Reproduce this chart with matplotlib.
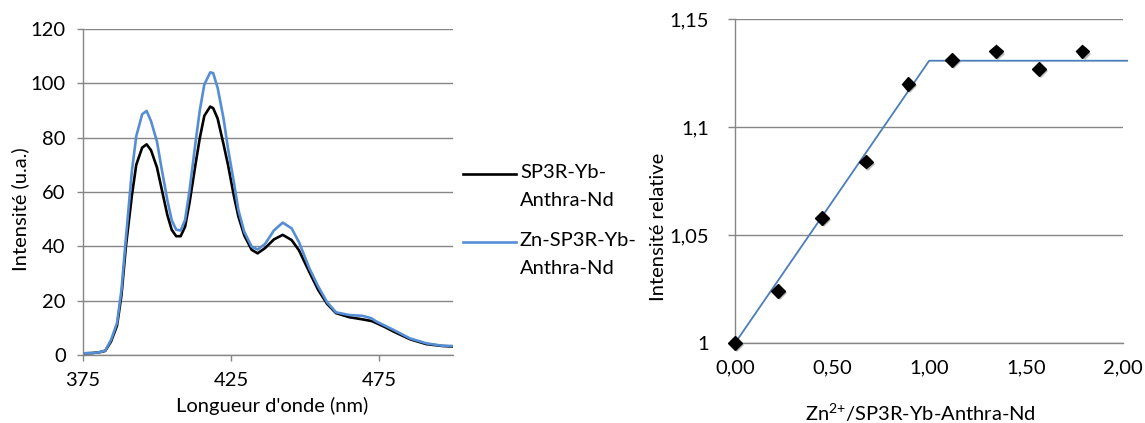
import matplotlib
matplotlib.use("Agg")
import matplotlib.pyplot as plt
import matplotlib.patheffects as pe
from matplotlib.lines import Line2D

plt.rcParams["font.family"] = ["Lato", "DejaVu Sans"]
plt.rcParams["mathtext.default"] = "regular"

# ---- left panel: emission spectra ----
wavelength = [375, 378, 380.5, 382.5, 384.5, 386.5, 388, 389.5, 391.5, 393,
              395, 396.5, 398, 400, 401.5, 403.5, 405, 406.5, 408, 409.5,
              411, 413, 414.5, 416, 418, 419, 420.5, 422.5, 424, 426,
              427.5, 429.5, 432, 434, 436.5, 439.5, 442.5, 445.5, 448, 451.5,
              454.5, 457.5, 460.5, 465, 469.5, 472.5, 474, 477, 480, 485.5,
              491, 496.5, 500]
sp3r = [0.6, 0.7, 1.0, 1.5, 5, 10.8, 22, 40, 58.5, 70,
        76.3, 77.5, 75.3, 69, 61.5, 51.5, 46, 43.7, 43.7, 47.2,
        56, 70, 80, 88, 91.4, 90.8, 87, 77.5, 70, 58.5,
        51, 44, 38.7, 37.4, 39.3, 42.5, 44.2, 42.3, 38.5, 30.5,
        23.9, 18.8, 15.4, 13.9, 13.1, 12.5, 11.8, 10.3, 8.6, 5.8,
        4.0, 3.3, 3.1]
zn_sp3r = [0.6, 0.7, 1.0, 1.6, 5.6, 11.8, 24, 43, 67.5, 80.5,
           88.6, 89.8, 86, 78.5, 69, 57, 49.5, 46.1, 45.8, 49.7,
           60.5, 78, 90.2, 99.5, 104, 103.7, 98.3, 87, 76, 63.5,
           53.4, 45.3, 39.9, 38.8, 40.8, 45.8, 48.7, 46.6, 41.5, 31.9,
           25.2, 19.4, 15.7, 14.7, 14.4, 13.5, 12.4, 10.8, 9.2, 6.1,
           4.3, 3.4, 3.3]
legend_labels = ["SP3R-Yb-\nAnthra-Nd", "Zn-SP3R-Yb-\nAnthra-Nd"]

# ---- right panel: titration ----
ratio = [0.0, 0.223, 0.446, 0.673, 0.893, 1.119, 1.344, 1.567, 1.79]
rel_int = [1.000, 1.024, 1.058, 1.084, 1.120, 1.131, 1.135, 1.127, 1.135]
fit_x = [0.0, 1.0, 2.02]
fit_y = [1.0, 1.1307, 1.1307]

GRID = "#868686"
BLUE = "#558ED5"
FS = 14.5

fig = plt.figure(figsize=(11.45, 4.23), dpi=100)

# left axes
ax1 = fig.add_axes([0.0725, 0.1608, 0.323, 0.771])
ax1.plot(wavelength, sp3r, color="black", lw=1.9, solid_joinstyle="round")
ax1.plot(wavelength, zn_sp3r, color=BLUE, lw=1.9, solid_joinstyle="round")
ax1.set_xlim(375, 500)
ax1.set_ylim(0, 120)
ax1.set_xticks([375, 425, 475])
ax1.set_yticks(range(0, 121, 20))
ax1.yaxis.grid(True, color=GRID, lw=1.0)
ax1.set_axisbelow(True)
for s in ["top", "right"]:
    ax1.spines[s].set_visible(False)
for s in ["left", "bottom"]:
    ax1.spines[s].set_color(GRID)
    ax1.spines[s].set_linewidth(1.0)
ax1.tick_params(axis="both", colors=GRID, labelcolor="black", labelsize=FS,
                length=4.5, width=1.0)
ax1.tick_params(axis="x", pad=8)
ax1.tick_params(axis="y", pad=8)
ax1.set_xlabel("Longueur d'onde (nm)", fontsize=FS, va="center")
ax1.xaxis.set_label_coords(0.51, -0.155)
ax1.set_ylabel("Intensité (u.a.)", fontsize=FS, va="center")
ax1.yaxis.set_label_coords(-0.17, 0.448)

# legend drawn by hand: handle sits on the first text line, as in Excel
W, H = 1145, 423
for (ly, lab, col) in [(174, legend_labels[0], "black"),
                       (242, legend_labels[1], BLUE)]:
    fig.add_artist(Line2D([463 / W, 516 / W], [1 - ly / H, 1 - ly / H],
                          color=col, lw=1.9))
    fig.text(520 / W, 1 - (ly - 10) / H, lab, fontsize=FS, va="top",
             ha="left", linespacing=1.8)

# right axes
ax2 = fig.add_axes([0.642, 0.189, 0.339, 0.766])
ax2.plot(fit_x, fit_y, color="#4A7EBB", lw=1.3, clip_on=False, zorder=2)
ax2.plot(ratio, rel_int, linestyle="none", marker="D", ms=7, color="black",
         clip_on=False, zorder=3,
         path_effects=[pe.SimplePatchShadow(offset=(1.5, -1.5),
                                            shadow_rgbFace="#777777", alpha=0.5),
                       pe.Normal()])
ax2.set_xlim(0, 2)
ax2.set_ylim(1, 1.15)
ax2.set_xticks([0, 0.5, 1.0, 1.5, 2.0])
ax2.set_xticklabels(["0,00", "0,50", "1,00", "1,50", "2,00"])
ax2.set_yticks([1, 1.05, 1.1, 1.15])
ax2.set_yticklabels(["1", "1,05", "1,1", "1,15"])
ax2.yaxis.grid(True, color=GRID, lw=1.0)
ax2.set_axisbelow(True)
for s in ["top", "right"]:
    ax2.spines[s].set_visible(False)
for s in ["left", "bottom"]:
    ax2.spines[s].set_color(GRID)
    ax2.spines[s].set_linewidth(1.0)
ax2.tick_params(axis="y", colors=GRID, labelcolor="black", labelsize=FS,
                length=5, width=1.0, pad=14)
ax2.tick_params(axis="x", labelsize=FS, length=0, pad=12)
ax2.set_xlabel(r"Zn$^{2{+}}$/SP3R-Yb-Anthra-Nd", fontsize=FS, va="center")
ax2.xaxis.set_label_coords(0.477, -0.216)
ax2.set_ylabel("Intensité relative", fontsize=FS, va="center")
ax2.yaxis.set_label_coords(-0.198, 0.358)

fig.savefig("out.png", dpi=100)
